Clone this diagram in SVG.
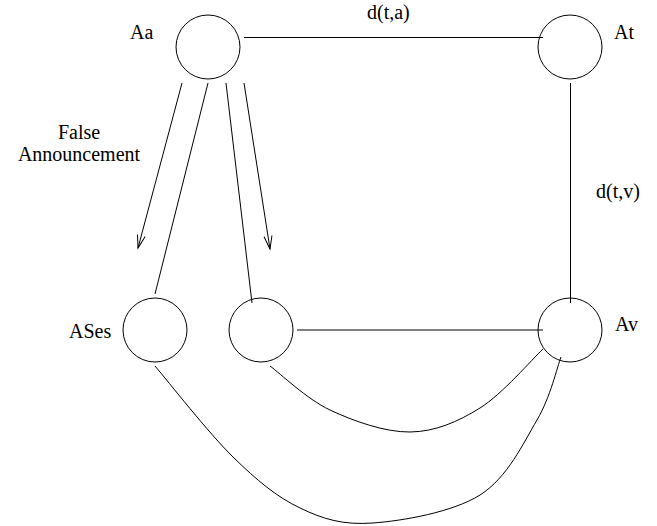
<svg xmlns="http://www.w3.org/2000/svg" width="657" height="526" viewBox="0 0 657 526">
  <style>
    .node { fill: none; stroke: #000; stroke-width: 1; }
    .edge { fill: none; stroke: #000; stroke-width: 1; }
    text { font-family: 'Liberation Serif', 'Times New Roman', Times, serif; font-size: 20px; fill: #000; }
  </style>
  <defs>
    <marker id="vhead" markerUnits="userSpaceOnUse" markerWidth="30" markerHeight="30" viewBox="-15 -15 30 30" refX="0" refY="0" orient="auto" overflow="visible">
      <path d="M-13,-4 L0,0 L-13,4" fill="none" stroke="#000" stroke-width="1"/>
    </marker>
  </defs>
  <rect width="657" height="526" fill="#fff"/>

  <g id="connectors">
    <line class="edge" x1="244" y1="37.5" x2="543" y2="37.5"/>
    <line class="edge" x1="570.5" y1="83" x2="570.5" y2="303"/>
    <line class="edge" x1="297" y1="330" x2="543" y2="330"/>
    <line class="edge" x1="182" y1="83" x2="138" y2="248" marker-end="url(#vhead)"/>
    <line class="edge" x1="208" y1="83" x2="155" y2="294"/>
    <line class="edge" x1="226" y1="83" x2="252" y2="303"/>
    <line class="edge" x1="244" y1="83" x2="270" y2="249" marker-end="url(#vhead)"/>
    <path class="edge" d="M270,366 C280,373.3 306.7,399 330,410 C353.3,421 385,432.3 410,432 C435,431.7 457.8,421.8 480,408 C502.2,394.2 532.5,358.8 543,349"/>
    <path class="edge" d="M155,366 C168,381.2 208.8,433.3 233,457 C257.2,480.7 276.7,496.8 300,508 C323.3,519.2 343,525.2 373,523 C403,520.8 452.7,512.2 480,495 C507.3,477.8 523.5,443 537,420 C550.5,397 557,367.5 561,357"/>
  </g>

  <g id="Aa">
    <circle class="node" cx="208" cy="47" r="32"/>
    <text x="130" y="39">Aa</text>
  </g>
  <g id="At">
    <circle class="node" cx="570" cy="47" r="32"/>
    <text x="614" y="39">At</text>
  </g>
  <g id="ASes">
    <circle class="node" cx="155" cy="330" r="32"/>
    <text x="69" y="338">ASes</text>
  </g>
  <g id="Amid">
    <circle class="node" cx="261" cy="330" r="32"/>
  </g>
  <g id="Av">
    <circle class="node" cx="570" cy="330" r="32"/>
    <text x="615" y="331">Av</text>
  </g>

  <g id="labels">
    <text x="367" y="19">d(t,a)</text>
    <text x="596" y="198">d(t,v)</text>
    <text x="79" y="139" text-anchor="middle">False</text>
    <text x="79" y="161" text-anchor="middle">Announcement</text>
  </g>
</svg>
